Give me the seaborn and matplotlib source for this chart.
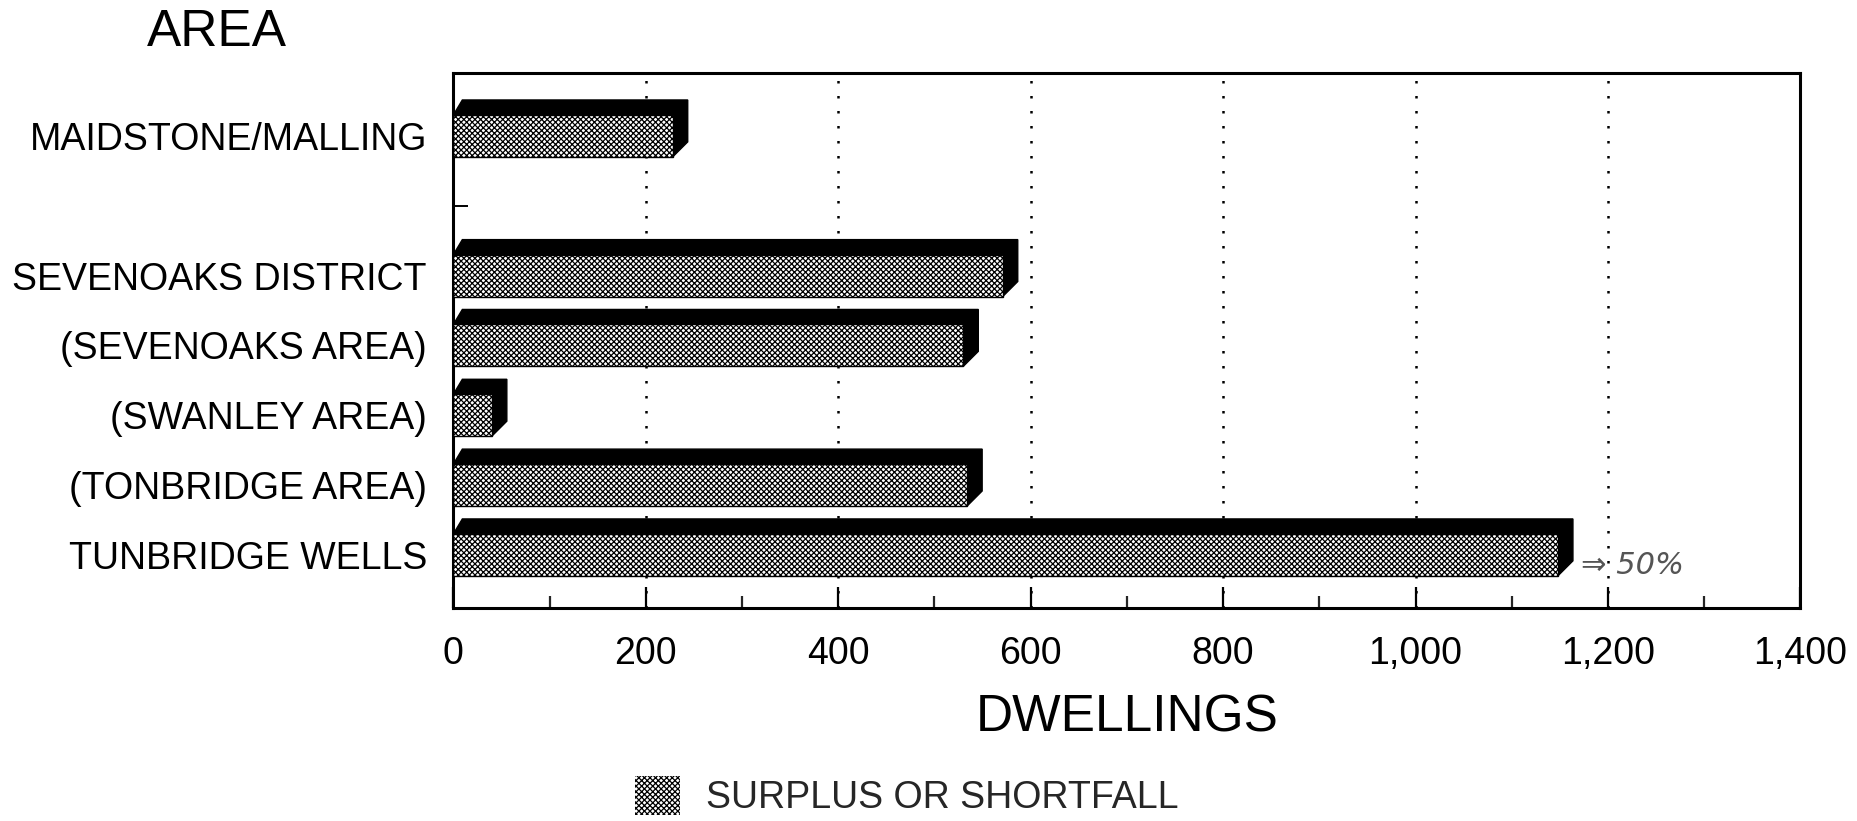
import matplotlib
matplotlib.use("Agg")
import matplotlib.pyplot as plt
from matplotlib.patches import Patch, Polygon
from matplotlib.ticker import FuncFormatter, MultipleLocator
import seaborn as sns
import pandas as pd

# Housing surplus / shortfall by area
areas = ["MAIDSTONE/MALLING", "SEVENOAKS DISTRICT", "(SEVENOAKS AREA)",
         "(SWANLEY AREA)", "(TONBRIDGE AREA)", "TUNBRIDGE WELLS"]
dwellings = [228, 571, 530, 40, 534, 1148]
# row order, with an empty slot after the first area
row_order = ["MAIDSTONE/MALLING", "", "SEVENOAKS DISTRICT", "(SEVENOAKS AREA)",
             "(SWANLEY AREA)", "(TONBRIDGE AREA)", "TUNBRIDGE WELLS"]
x_ticks = [0, 200, 400, 600, 800, 1000, 1200, 1400]
legend_label = "SURPLUS OR SHORTFALL"
note_text = "\u21d2 50%"

sns.set_style("ticks")
plt.rcParams["font.family"] = ["Liberation Sans", "DejaVu Sans"]
plt.rcParams["hatch.color"] = "black"
plt.rcParams["hatch.linewidth"] = 0.9

HATCH = "x" * 6

df = pd.DataFrame({"area": areas, "dwellings": dwellings})

fig = plt.figure(figsize=(18.58, 8.21), dpi=100)
ax = fig.add_axes([0.244, 0.2595, 0.725, 0.6515])

sns.barplot(data=df, x="dwellings", y="area", order=row_order, orient="h",
            color="white", saturation=1, width=0.6, edgecolor="black",
            linewidth=1.0, hatch=HATCH, errorbar=None, ax=ax, zorder=3)

ax.set_xlim(0, 1400)
ax.set_ylim(6.76, -0.9)

# 3-D extrusion behind every bar: black top band and right side
px_per_x = ax.bbox.width / 1400.0
px_per_y = ax.bbox.height / 7.66
dx = 15 / px_per_x
dy = 15 / px_per_y
for bar in list(ax.patches):
    x0, y0 = bar.get_x(), bar.get_y()
    w, h = bar.get_width(), bar.get_height()
    x1, y1 = x0 + w, y0 + h
    top, bot = min(y0, y1), max(y0, y1)
    pts = [(x0, top), (x0 + dx * 0.6, top - dy), (x1 + dx, top - dy),
           (x1 + dx, bot - dy), (x1, bot), (x1, top)]
    ax.add_patch(Polygon(pts, closed=True, facecolor="black",
                         edgecolor="black", linewidth=1, zorder=2))

# axes frame, grid and ticks
for s in ax.spines.values():
    s.set_visible(True)
    s.set_color("black")
    s.set_linewidth(2.2)

ax.set_xticks(x_ticks)
ax.xaxis.set_minor_locator(MultipleLocator(100))
ax.xaxis.set_major_formatter(FuncFormatter(lambda v, p: f"{v:,.0f}"))
ax.grid(axis="x", which="major", color="black", linestyle=(0, (1, 5)),
        linewidth=1.8)
ax.set_axisbelow(True)

ax.tick_params(axis="x", which="major", direction="in", length=15, width=1.6,
               pad=20, labelsize=27, colors="black", top=False)
ax.tick_params(axis="x", which="minor", direction="in", length=8.5,
               width=1.6, top=False)
ax.tick_params(axis="y", which="major", direction="in", length=11, width=1.4,
               pad=19, labelsize=27, colors="black", right=False)

ax.set_ylabel("")
ax.set_xlabel("DWELLINGS", fontsize=37, labelpad=16, color="black")

fig.text(0.117, 0.961, "AREA", fontsize=37, ha="center", va="center",
         color="black")

ax.text(1172, 6.15, note_text, fontsize=22, style="italic",
        family=["DejaVu Sans"], color="#555555", ha="left", va="center")

handle = Patch(facecolor="white", edgecolor="black", hatch=HATCH, linewidth=0)
fig.legend(handles=[handle], labels=[legend_label], loc="center",
           bbox_to_anchor=(0.488, 0.03), frameon=False, fontsize=27,
           handlelength=1.2, handleheight=1.2, handletextpad=0.7)

fig.savefig("out.png", dpi=100, facecolor="white")
